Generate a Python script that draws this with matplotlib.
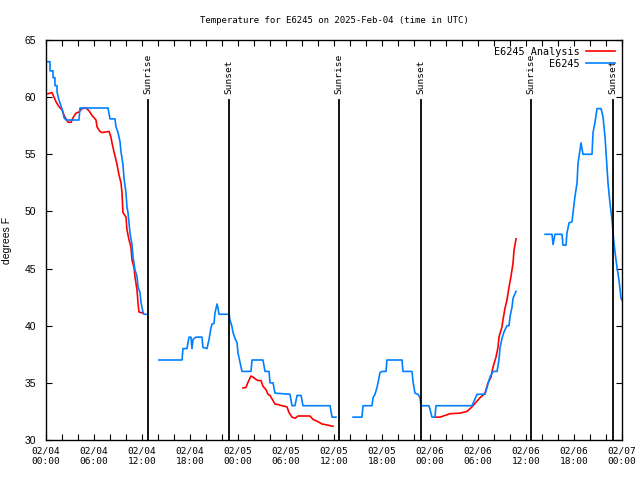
import numpy as np
import matplotlib
matplotlib.use("Agg")
import matplotlib.pyplot as plt
from matplotlib.ticker import MultipleLocator

nan = np.nan

# hours since 2025-02-04 00:00 UTC, NaN = gap
obs_hours = [0.12, 0.5, 0.5, 0.88, 0.88, 1.12, 1.12, 1.38, 1.38, 1.62, 1.88, 2.12, 2.25, 2.5,
             4.12, 4.25, 7.75, 8.0, 8.62, 8.75, 9.0, 9.25, 9.38, 9.62, 9.75, 10.0, 10.12, 10.25,
             10.38, 10.5, 10.75, 10.88, 11.12, 11.38, 11.5, 11.75, 11.88, 12.12, 12.25, 12.62,
             nan,
             14.12, 17.0, 17.12, 17.62, 17.88, 18.12, 18.25, 18.38, 18.75, 19.5, 19.62, 20.12,
             20.38, 20.62, 20.75, 21.0, 21.12, 21.38, 21.5, 21.62, 22.88, 23.0, 23.25, 23.38,
             23.62, 23.88, 24.0, 24.25, 24.5, 25.62, 25.75, 27.12, 27.38, 27.88, 28.0, 28.38,
             28.62, 30.5, 30.75, 31.12, 31.38, 31.88, 32.12, 35.5, 35.75, 36.25,
             nan,
             38.38, 39.5, 39.62, 40.75, 40.88, 41.12, 41.38, 41.5, 41.75, 42.0, 42.5, 42.62,
             44.5, 44.62, 45.75, 45.88, 46.12, 46.5, 46.75, 46.88, 47.88, 48.25, 48.62, 48.75,
             53.25, 53.88, 54.88, 55.12, 55.5, 55.88, 56.38, 56.62, 56.75, 57.0, 57.25, 57.62,
             57.88, 58.0, 58.25, 58.38, 58.75,
             nan,
             62.38, 63.25, 63.38, 63.62, 64.5, 64.62, 65.0, 65.12, 65.38, 65.75, 65.88, 66.12,
             66.38, 66.5, 66.75, 66.88, 67.12, 68.25, 68.38, 68.62, 68.88, 69.38, 69.62, 69.88,
             70.12, 70.25, 70.5, 70.75, 70.88, 71.0, 71.25, 71.38, 71.62, 71.88, 72.0]
obs_temp = [63.1, 63.1, 62.3, 62.3, 61.7, 61.7, 61.0, 61.0, 60.45, 59.75, 59.2, 58.7, 58.2, 58.0,
            58.0, 59.05, 59.05, 58.1, 58.1, 57.4, 56.9, 56.1, 55.2, 54.1, 52.9, 51.6, 50.4, 49.9,
            49.0, 48.1, 47.1, 46.0, 44.9, 44.3, 43.4, 42.9, 42.0, 41.2, 41.0, 41.0,
            nan,
            37.0, 37.0, 38.0, 38.0, 39.0, 39.0, 38.0, 38.8, 39.0, 39.0, 38.1, 38.0,
            38.8, 39.8, 40.15, 40.2, 41.1, 41.9, 41.55, 41.0, 41.0, 40.5, 39.9, 39.4,
            38.9, 38.5, 37.6, 36.8, 36.0, 36.0, 37.0, 37.0, 36.0, 36.0, 35.0, 35.0,
            34.1, 34.0, 33.0, 33.0, 33.9, 33.9, 33.0, 33.0, 32.0, 32.0,
            nan,
            32.0, 32.0, 33.0, 33.0, 33.7, 34.0, 34.6, 35.0, 35.9, 36.0, 36.0, 37.0,
            37.0, 36.0, 36.0, 35.1, 34.1, 34.0, 33.7, 33.0, 33.0, 32.0, 32.0, 33.0,
            33.0, 34.0, 34.0, 34.6, 35.5, 36.0, 36.0, 37.0, 38.05, 38.9, 39.45, 40.0,
            40.0, 40.8, 41.6, 42.4, 43.0,
            nan,
            48.0, 48.0, 47.1, 48.0, 48.0, 47.05, 47.05, 48.1, 49.0, 49.1, 49.9, 51.3,
            52.5, 54.2, 55.4, 56.0, 55.0, 55.0, 56.9, 57.8, 59.0, 59.0, 58.3, 56.5,
            53.9, 52.5, 50.7, 49.25, 48.2, 47.2, 45.75, 45.1, 44.0, 42.4, 42.25]

ana_hours = [0.25, 0.75, 1.0, 1.25, 1.5, 1.75, 2.0, 2.25, 2.5, 2.75, 3.12, 3.38, 3.75, 4.12,
             4.5, 5.0, 5.38, 5.75, 6.25, 6.38, 6.75, 7.0, 7.88, 8.12, 8.25, 8.5, 8.75, 8.88,
             9.12, 9.38, 9.5, 9.62, 10.0, 10.12, 10.38, 10.62, 10.75, 11.0, 11.12, 11.38, 11.5,
             11.62, 12.12,
             nan,
             24.62, 25.0, 25.25, 25.62, 25.88, 26.25, 26.5, 26.88, 27.12, 27.5, 27.75, 28.0,
             28.25, 28.62, 29.0, 29.5, 30.12, 30.38, 30.75, 31.12, 31.5, 33.0, 33.38, 34.0,
             34.5, 35.25, 35.88,
             nan,
             48.75, 49.25, 50.5, 51.75, 52.62, 53.25, 53.62, 54.25, 54.88, 55.25, 55.62, 55.88,
             56.25, 56.5, 56.62, 57.0, 57.12, 57.38, 57.62, 57.88, 58.12, 58.38, 58.5, 58.75]
ana_temp = [60.3, 60.4, 60.0, 59.6, 59.3, 59.05, 58.9, 58.4, 58.1, 57.8, 57.8, 58.2, 58.6, 58.7,
            59.0, 59.05, 58.8, 58.4, 58.0, 57.4, 57.0, 56.9, 57.0, 56.5, 56.0, 55.2, 54.5, 54.1,
            53.2, 52.5, 51.6, 49.9, 49.5, 48.4, 47.5, 46.9, 45.75, 45.1, 44.3, 43.1, 42.0,
            41.2, 41.1,
            nan,
            34.55, 34.6, 35.05, 35.6, 35.5, 35.3, 35.2, 35.2, 34.7, 34.4, 34.0, 33.9,
            33.6, 33.15, 33.1, 33.0, 32.9, 32.4, 32.0, 31.9, 32.1, 32.1, 31.8, 31.6,
            31.4, 31.3, 31.2,
            nan,
            32.0, 32.0, 32.3, 32.35, 32.5, 32.9, 33.2, 33.7, 34.1, 35.0, 35.5, 36.4,
            37.25, 38.1, 39.0, 39.9, 40.5, 41.55, 42.25, 43.4, 44.3, 45.5, 46.6, 47.6]

sun_hours = [12.75, 22.88, 36.65, 46.88, 60.6, 70.88]
sun_names = ["Sunrise", "Sunset", "Sunrise", "Sunset", "Sunrise", "Sunset"]

tick_hours = list(range(0, 73, 6))
tick_labels = ["02/04\n00:00", "02/04\n06:00", "02/04\n12:00", "02/04\n18:00",
               "02/05\n00:00", "02/05\n06:00", "02/05\n12:00", "02/05\n18:00",
               "02/06\n00:00", "02/06\n06:00", "02/06\n12:00", "02/06\n18:00",
               "02/07\n00:00"]

mono = "DejaVu Sans Mono"
sans = "Liberation Sans"

fig = plt.figure(figsize=(6.4, 4.8), dpi=100)
ax = fig.add_axes([46/640, 40/480, 576/640, 400/480])

ax.plot(ana_hours, ana_temp, color="#ff0000", lw=1.2, label="E6245 Analysis")
ax.plot(obs_hours, obs_temp, color="#0080ff", lw=1.2, label="E6245")

for h, name in zip(sun_hours, sun_names):
    ax.plot([h, h], [30, 59.75], color="black", lw=1.3)
    ax.text(h, 60.3, name, rotation=90, ha="center", va="bottom",
            fontsize=6.8, family=mono)

ax.set_xlim(0, 72)
ax.set_ylim(30, 65)
ax.set_xticks(tick_hours)
ax.set_xticklabels(tick_labels, family=mono, fontsize=6.8)
ax.xaxis.set_minor_locator(MultipleLocator(2))
ax.set_yticks(range(30, 66, 5))
ax.set_yticklabels([str(v) for v in range(30, 66, 5)], family=sans, fontsize=7.5)
ax.tick_params(which="both", direction="in", top=True, right=True, length=4, width=0.8)
ax.tick_params(axis="x", pad=5)
ax.tick_params(axis="y", pad=7)
for s in ax.spines.values():
    s.set_linewidth(1)

ax.set_ylabel("degrees F", family=sans, fontsize=7.5, labelpad=9)
ax.set_title("Temperature for E6245 on 2025-Feb-04 (time in UTC)",
             family=mono, fontsize=6.5, pad=12)

leg = ax.legend(loc="upper right", frameon=False, markerfirst=False,
                prop={"family": mono, "size": 7.3}, handlelength=2.9,
                borderaxespad=0.25, labelspacing=0.2, handletextpad=0.6)

fig.savefig("out.png", dpi=100)
